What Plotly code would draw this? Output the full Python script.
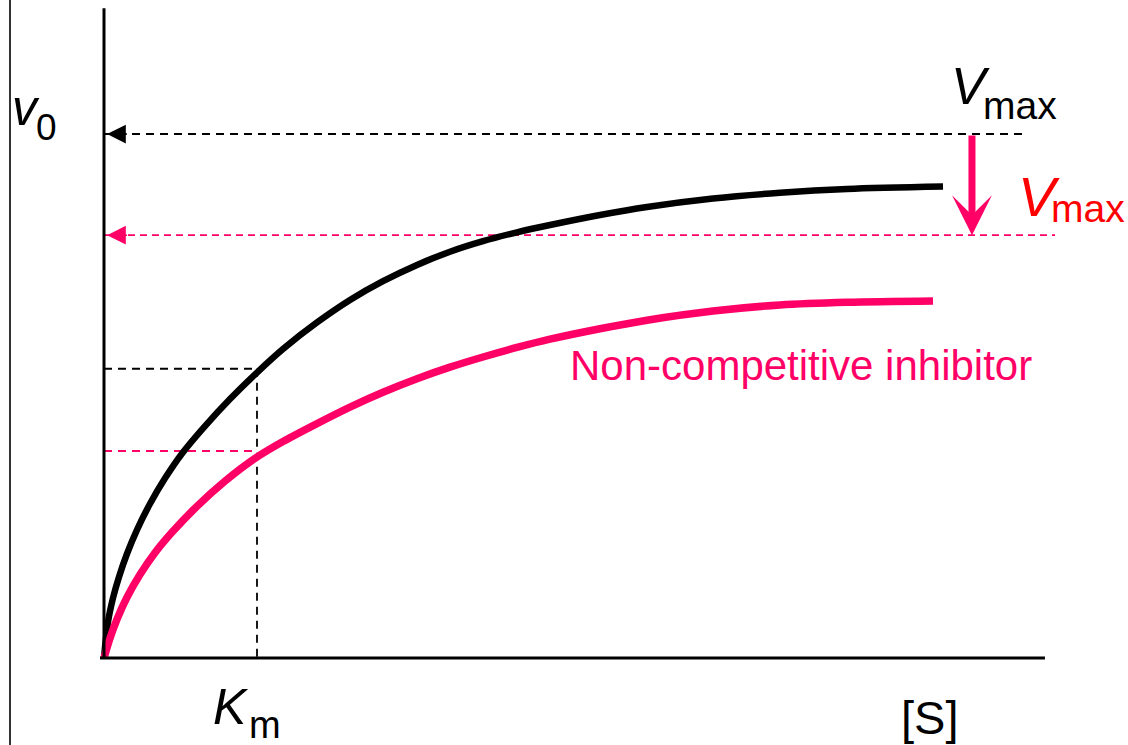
import plotly.graph_objects as go

# ---------------- data (S in units of Km, v in units of Vmax) ----------------
S_uninhibited = [0.0, 0.0261, 0.0588, 0.0980, 0.1503, 0.2157, 0.3007, 0.3987, 0.5163,
                 0.6601, 0.8235, 1.0, 1.1699, 1.3922, 1.6078, 1.8235, 2.0458, 2.2614,
                 2.4771, 2.6993, 2.9150, 3.2418, 3.5490, 3.9804, 4.4183, 4.8562, 5.4837]
v_uninhibited = [0.0, 0.0687, 0.1145, 0.1546, 0.1989, 0.2447, 0.2943, 0.3429, 0.3927,
                 0.4427, 0.4943, 0.5448, 0.5897, 0.6403, 0.6832, 0.7191, 0.7502, 0.7754,
                 0.7956, 0.8124, 0.8263, 0.8454, 0.8607, 0.8769, 0.8878, 0.8950, 0.8996]

S_inhibited = [0.0, 0.0392, 0.0850, 0.1503, 0.2353, 0.3333, 0.4444, 0.5948, 0.7908,
               0.9869, 1.1699, 1.3922, 1.6078, 1.8235, 2.0458, 2.2614, 2.4771, 2.6993,
               2.9150, 3.2418, 3.5490, 3.9804, 4.4183, 4.8562, 5.4183]
v_inhibited = [0.0, 0.0378, 0.0739, 0.1158, 0.1594, 0.2009, 0.2398, 0.2859, 0.3374,
               0.3809, 0.4130, 0.4473, 0.4788, 0.5071, 0.5330, 0.5550, 0.5744, 0.5926,
               0.6084, 0.6284, 0.6447, 0.6622, 0.6737, 0.6788, 0.6813]

Km = 1.0
Vmax = 1.0
Vmax_inhibited = 0.807
v_at_Km = 0.552
v_at_Km_inhibited = 0.395
Vmax_line_end = 6.0
Vmax_inh_line_end = 6.216
drop_arrow_S = 5.673
x_axis_extent = [-0.026, 6.15]
y_axis_extent = [0.0, 1.240]

BLACK = "#000000"
PINK = "#FF0066"
RED = "#FF0000"
FONT = "Liberation Sans, Arial, sans-serif"

W, H = 1128, 745

fig = go.Figure()

# dashed guide lines
def dashed(xs, ys, color, width=1.8, dash="8px,5px"):
    fig.add_trace(go.Scatter(x=xs, y=ys, mode="lines", hoverinfo="skip",
                             line=dict(color=color, width=width, dash=dash)))

dashed([0, Vmax_line_end], [Vmax, Vmax], BLACK, 1.8, "8px,6px")
dashed([0, Vmax_inh_line_end], [Vmax_inhibited, Vmax_inhibited], PINK, 1.8, "7px,5px")
dashed([0, Km], [v_at_Km, v_at_Km], BLACK, 1.8, "8px,6px")
dashed([Km, Km], [v_at_Km, 0], BLACK, 1.8, "8px,6px")
dashed([0, Km], [v_at_Km_inhibited, v_at_Km_inhibited], PINK, 1.8, "8px,6px")

# curves
fig.add_trace(go.Scatter(x=S_uninhibited, y=v_uninhibited, mode="lines",
                         line=dict(color=BLACK, width=6.5, shape="spline", smoothing=0.9),
                         hoverinfo="skip"))
fig.add_trace(go.Scatter(x=S_inhibited, y=v_inhibited, mode="lines",
                         line=dict(color=PINK, width=7.5, shape="spline", smoothing=0.9),
                         hoverinfo="skip"))

# axes lines
fig.add_shape(type="line", x0=0, x1=0, y0=y_axis_extent[0], y1=y_axis_extent[1],
              xref="x", yref="y", line=dict(color=BLACK, width=3))
fig.add_shape(type="line", x0=x_axis_extent[0], x1=x_axis_extent[1], y0=0, y1=0,
              xref="x", yref="y", line=dict(color=BLACK, width=3))
# slide border on left
fig.add_shape(type="line", x0=10 / W, x1=10 / W, y0=0, y1=1, xref="paper", yref="paper",
              line=dict(color="#333333", width=2))

# arrowheads of dashed lines
for yv, col in [(Vmax, BLACK), (Vmax_inhibited, PINK)]:
    fig.add_annotation(x=0.02, y=yv, ax=0.16, ay=yv, xref="x", yref="y", axref="x", ayref="y",
                       text="", showarrow=True, arrowhead=2, arrowwidth=1.5, arrowsize=2.5,
                       arrowcolor=col, standoff=0, startstandoff=0)

# big drop arrow
fig.add_annotation(x=drop_arrow_S, y=Vmax_inhibited, ax=drop_arrow_S, ay=Vmax,
                   xref="x", yref="y", axref="x", ayref="y", text="", showarrow=True,
                   arrowhead=3, arrowwidth=7, arrowsize=0.95, arrowcolor=PINK,
                   standoff=0, startstandoff=0)

# text labels (left x, baseline y in pixels)
def label(text, px, baseline, size, color=BLACK):
    desc = 0.212 * size
    fig.add_annotation(text=text, x=px / W, y=1 - (baseline + desc + 1) / H,
                       xref="paper", yref="paper", xanchor="left", yanchor="bottom",
                       showarrow=False, font=dict(family=FONT, size=size, color=color),
                       borderpad=0)

label("<i>v</i>", 11, 125, 50)
label("0", 35, 140, 37)
label("<i>V</i>", 950, 104, 52)
label("max", 982, 119, 39)
label("<i>V</i>", 1017, 216, 56, RED)
label("max", 1050, 222, 39, RED)
label("Non-competitive inhibitor", 569, 380, 42, PINK)
label("<i>K</i>", 212, 724, 50)
label("m", 248, 738, 38)
label("[S]", 900, 734, 47)

fig.update_layout(
    width=W, height=H, autosize=False,
    margin=dict(l=0, r=0, t=0, b=0),
    paper_bgcolor="white", plot_bgcolor="white",
    showlegend=False,
    xaxis=dict(range=[-104 / 153, (W - 104) / 153], visible=False, fixedrange=True),
    yaxis=dict(range=[(658 - H) / 524, 658 / 524], visible=False, fixedrange=True),
)

fig.write_html("out.html", config={"displayModeBar": False},
               post_script="document.body.style.margin='0px';")
